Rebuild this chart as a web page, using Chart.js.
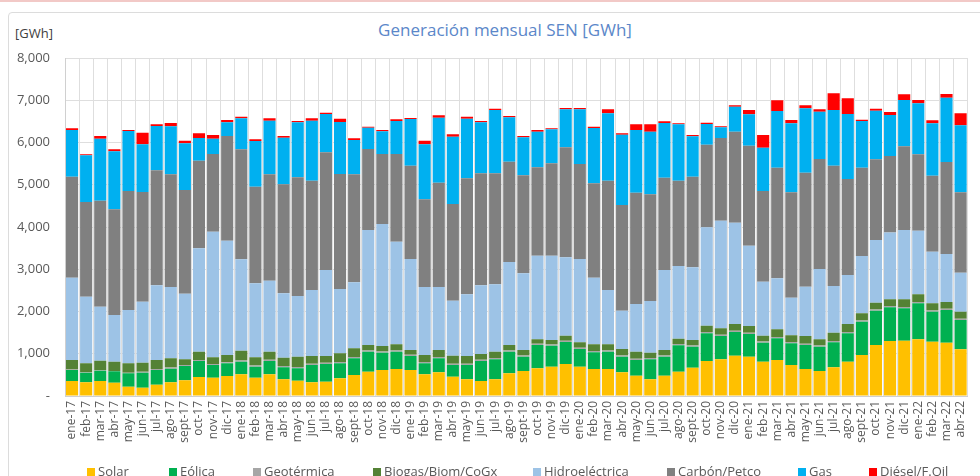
<!DOCTYPE html>
<html lang="es">
<head>
<meta charset="utf-8">
<title>Generación mensual SEN</title>
<script src="https://cdn.jsdelivr.net/npm/chart.js@4.4.0/dist/chart.umd.min.js"></script>
<style>
  html, body { margin: 0; padding: 0; background: #fff; }
  #wrap { position: relative; width: 980px; height: 476px; overflow: hidden; background: #fff;
          font-family: 'Open Sans', sans-serif; }
  .topline { position: absolute; left: 0; top: 0; width: 980px; height: 2px; background: #f2c9c7; }
  .frame { position: absolute; left: 8px; top: 12px; width: 1020px; height: 520px;
           border: 1px solid #dcdcdc; border-radius: 4px; }
  .unit { position: absolute; left: 15px; top: 24px; font-size: 13px; color: #404040; }
  .title { position: absolute; left: 0; width: 1010px; top: 18px; text-align: center;
           font-size: 17px; color: #5b87c9; }
  #canvas-box { position: absolute; left: 0; top: 0; width: 980px; height: 476px; }
  .lg-item { position: absolute; top: 463px; font-size: 13px; color: #595959; white-space: nowrap;
             line-height: 16px; }
  .lg-swatch { display: inline-block; width: 8px; height: 9px; margin-right: 3px; vertical-align: -1px; }
</style>
</head>
<body>
<div id="wrap">
  <div class="topline"></div>
  <div class="frame"></div>
  <div class="unit">[GWh]</div>
  <div class="title">Generación mensual SEN [GWh]</div>
  <div id="canvas-box"><canvas id="chart" width="980" height="476"></canvas></div>
  <div id="legend"></div>
</div>
<script>
  'use strict';

  const MONTHS = ['ene-17','feb-17','mar-17','abr-17','may-17','jun-17','jul-17','ago-17','sept-17','oct-17','nov-17','dic-17',
    'ene-18','feb-18','mar-18','abr-18','may-18','jun-18','jul-18','ago-18','sept-18','oct-18','nov-18','dic-18',
    'ene-19','feb-19','mar-19','abr-19','may-19','jun-19','jul-19','ago-19','sept-19','oct-19','nov-19','dic-19',
    'ene-20','feb-20','mar-20','abr-20','may-20','jun-20','jul-20','ago-20','sept-20','oct-20','nov-20','dic-20',
    'ene-21','feb-21','mar-21','abr-21','may-21','jun-21','jul-21','ago-21','sept-21','oct-21','nov-21','dic-21',
    'ene-22','feb-22','mar-22','abr-22'];

  const SOLAR = [355,323,355,316,221,197,268,323,371,450,434,473,
    513,434,513,394,363,323,339,418,497,576,615,639,
    615,513,560,458,394,355,394,537,592,655,694,757,
    694,639,639,560,481,394,481,576,671,828,868,955,
    931,813,852,734,639,592,679,813,970,1207,1302,1310,
    1341,1286,1262,1105];

  const EOLICA = [260,229,245,268,316,355,347,324,339,378,300,300,
    300,260,315,285,292,411,418,355,395,473,411,410,
    332,260,332,276,340,473,474,512,339,552,497,521,
    418,395,410,371,371,474,450,623,497,655,552,560,
    536,449,513,512,568,576,591,670,789,813,797,765,
    852,710,774,694];

  const GEOTERMICA = [10,10,10,10,15,20,25,25,25,25,25,25,
    30,30,30,30,30,30,30,30,30,30,30,30,
    30,30,30,30,30,30,30,30,30,30,30,30,
    30,30,30,30,30,30,30,30,30,30,30,30,
    30,30,30,30,30,30,30,30,30,30,30,30,
    30,30,30,30];

  const BIOGAS = [227,211,226,219,221,217,212,220,133,196,156,172,
    230,191,191,198,246,183,160,207,206,128,128,144,
    112,167,167,191,183,136,151,128,128,104,105,120,
    128,159,144,151,167,128,128,128,128,152,152,159,
    160,136,183,160,183,143,199,191,167,160,159,183,
    183,167,159,167];

  const HIDRO = [1949,1578,1279,1104,1263,1444,1767,1688,1554,2446,2975,2707,
    2162,1752,1681,1523,1436,1562,2035,1523,1562,2722,2887,2430,
    2154,1610,1491,1302,1460,1625,1594,1965,1815,1981,1996,1854,
    1973,1578,1286,908,1129,1223,1893,1720,1720,2327,2548,2399,
    1901,1278,1207,892,1168,1665,1105,1160,1358,1483,1579,1641,
    1508,1223,1136,923];

  const CARBON = [2391,2241,2509,2501,2816,2596,2722,2667,2454,2075,1838,2477,
    2603,2288,2517,2580,2809,2588,2785,2722,2557,1917,1657,2075,
    2209,2075,2470,2287,2745,2651,2627,2375,2319,2091,2185,2604,
    2248,2233,2588,2501,2635,2524,2186,2020,2146,1957,1957,2154,
    2367,2146,2620,2493,2698,2604,2848,2272,2091,1909,1814,1981,
    1806,1799,2177,1902];

  const GAS = [1104,1105,1467,1373,1421,1128,1050,1136,1104,537,363,324,
    734,1081,1270,1105,1302,1420,908,1231,813,505,537,781,
    1105,1302,1538,1594,1412,1208,1500,1049,900,844,805,899,
    1294,1310,1594,1665,1483,1484,1294,1333,954,489,252,592,
    742,1026,1341,1633,1523,1120,1318,1539,1104,1152,970,1096,
    1208,1239,1523,1586];

  const DIESEL = [40,23,63,48,23,276,39,79,64,110,87,55,
    40,39,55,39,31,55,32,79,39,24,31,40,
    23,87,55,56,48,31,31,32,31,39,24,32,
    32,31,94,31,134,173,39,24,32,32,24,31,
    103,300,252,79,71,55,394,371,32,47,71,134,
    78,71,87,284];

  const Y_TICKS = [0, 1000, 2000, 3000, 4000, 5000, 6000, 7000, 8000];

  const SERIES = [
    { label: 'Solar',             data: SOLAR,      color: '#ffc000' },
    { label: 'Eólica',            data: EOLICA,     color: '#00b050' },
    { label: 'Geotérmica',        data: GEOTERMICA, color: '#a6a6a6' },
    { label: 'Biogas/Biom/CoGx',  data: BIOGAS,     color: '#548235' },
    { label: 'Hidroeléctrica',    data: HIDRO,      color: '#9dc3e6' },
    { label: 'Carbón/Petco',      data: CARBON,     color: '#808080' },
    { label: 'Gas',               data: GAS,        color: '#00b0f0' },
    { label: 'Diésel/F.Oil',      data: DIESEL,     color: '#ff0000' },
  ];

  // legend item left edges, matching the original spread
  const LEGEND_X = [87, 169, 253, 373, 533, 667, 798, 869];

  function buildLegend(el) {
    el.innerHTML = SERIES.map(function (s, i) {
      return '<span class="lg-item" style="left:' + LEGEND_X[i] + 'px">' +
        '<span class="lg-swatch" style="background:' + s.color + '"></span>' + s.label + '</span>';
    }).join('');
  }

  buildLegend(document.getElementById('legend'));

  new Chart(document.getElementById('chart'), {
    type: 'bar',
    data: {
      labels: MONTHS,
      datasets: SERIES.map(function (s) {
        return {
          label: s.label,
          data: s.data,
          backgroundColor: s.color,
          borderWidth: 0,
          barPercentage: 0.86,
          categoryPercentage: 1,
        };
      }),
    },
    options: {
      responsive: false,
      animation: false,
      layout: { padding: { top: 58, right: 0, bottom: 0, left: 0 } },
      plugins: {
        legend: { display: false },
        title: { display: false },
        tooltip: { enabled: false },
      },
      scales: {
        x: {
          stacked: true,
          offset: true,
          grid: { offset: true, color: '#dedede', drawTicks: false },
          border: { color: '#d0d0d0' },
          ticks: {
            autoSkip: false,
            maxRotation: 90,
            minRotation: 90,
            padding: 5,
            color: '#595959',
            font: { family: "'Open Sans', sans-serif", size: 12 },
          },
          afterFit: function (scale) { scale.height = 80; },
        },
        y: {
          stacked: true,
          min: 0,
          max: 8000,
          afterBuildTicks: function (scale) {
            scale.ticks = Y_TICKS.map(function (v) { return { value: v }; });
          },
          grid: { color: '#dedede', drawTicks: false },
          border: { color: '#d0d0d0' },
          ticks: {
            padding: 15,
            color: '#595959',
            font: { family: "'Open Sans', sans-serif", size: 13 },
            callback: function (v) { return v === 0 ? '-' : Number(v).toLocaleString('en-US'); },
          },
          afterFit: function (scale) { scale.width = 65; },
        },
      },
    },
  });
</script>
</body>
</html>
